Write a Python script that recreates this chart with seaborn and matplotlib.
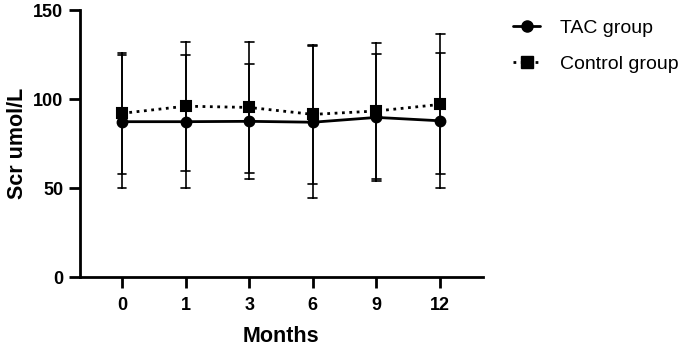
import pandas as pd
import matplotlib.pyplot as plt
import seaborn as sns
from matplotlib.lines import Line2D

sns.set_style("ticks")
plt.rcParams['font.family'] = ['Liberation Sans', 'DejaVu Sans']
plt.rcParams['font.weight'] = 'bold'
plt.rcParams.update({'text.color': 'black', 'axes.labelcolor': 'black',
                     'xtick.color': 'black', 'ytick.color': 'black'})

months = ["0", "1", "3", "6", "9", "12"]
tac_mean = [87.3, 87.3, 87.5, 87.0, 89.7, 87.8]
tac_sd = [37.5, 37.5, 32.3, 42.8, 35.8, 37.9]
ctrl_mean = [92.0, 96.0, 95.3, 91.4, 93.3, 97.0]
ctrl_sd = [33.8, 36.3, 36.7, 39.0, 38.3, 39.3]
groups = ["TAC group", "Control group"]

# mean-sd, mean, mean+sd per point -> median = mean, full range = error bar
rows = []
for g, means, sds in [(groups[0], tac_mean, tac_sd), (groups[1], ctrl_mean, ctrl_sd)]:
    for m, mu, sd in zip(months, means, sds):
        for v in (mu - sd, mu, mu + sd):
            rows.append({"Months": m, "Scr": v, "group": g})
df = pd.DataFrame(rows)

fig = plt.figure(figsize=(6.92, 3.46), dpi=100)
ax = fig.add_axes([0.1156, 0.199, 0.582, 0.772])

sns.pointplot(data=df, x="Months", y="Scr", hue="group", hue_order=groups[::-1],
              order=months, estimator="median", errorbar=("pi", 100),
              markers=["s", "o"], linestyles=[":", "-"], palette=["black", "black"],
              capsize=0.14, err_kws={"linewidth": 1.2}, markersize=7,
              linewidth=2, dodge=False, ax=ax, legend=False)

ax.set_xlim(-0.66, 5.67)
ax.set_ylim(0, 150)
ax.set_yticks([0, 50, 100, 150])
ax.set_xlabel("Months", fontsize=15.5, fontweight="bold", labelpad=9)
ax.set_ylabel("Scr umol/L", fontsize=15.5, fontweight="bold", labelpad=4)
ax.tick_params(labelsize=13, width=2, color="black")
ax.tick_params(axis="x", length=8, pad=6)
ax.tick_params(axis="y", length=8, pad=4)
for lab in ax.get_xticklabels() + ax.get_yticklabels():
    lab.set_fontweight("bold")
sns.despine(ax=ax)
for s in ["left", "bottom"]:
    ax.spines[s].set_linewidth(2)
    ax.spines[s].set_color("black")

handles = [Line2D([], [], color="black", linestyle="-", marker="o", markersize=8, linewidth=2),
           Line2D([], [], color="black", linestyle=":", marker="s", markersize=8, linewidth=2)]
fig.legend(handles, groups, loc="upper left", bbox_to_anchor=(513 / 692, 1 - 19 / 346),
           frameon=False, borderpad=0, borderaxespad=0, handlelength=1.4,
           handletextpad=1.0, labelspacing=0.98,
           prop={"size": 14, "weight": "normal"})

fig.savefig("out.png", dpi=100)
